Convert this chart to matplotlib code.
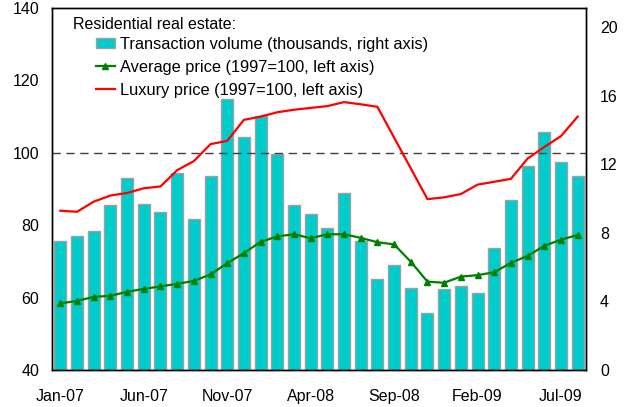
import matplotlib
matplotlib.use("Agg")
import matplotlib.pyplot as plt
import numpy as np

plt.rcParams['font.family'] = ['Liberation Sans', 'DejaVu Sans']

months = ["Jan-07", "Feb-07", "Mar-07", "Apr-07", "May-07", "Jun-07", "Jul-07", "Aug-07",
          "Sep-07", "Oct-07", "Nov-07", "Dec-07", "Jan-08", "Feb-08", "Mar-08", "Apr-08",
          "May-08", "Jun-08", "Jul-08", "Aug-08", "Sep-08", "Oct-08", "Nov-08", "Dec-08",
          "Jan-09", "Feb-09", "Mar-09", "Apr-09", "May-09", "Jun-09", "Jul-09", "Aug-09"]

volume = [7.5, 7.8, 8.1, 9.6, 11.2, 9.7, 9.2, 11.5, 8.8, 11.3, 15.8, 13.6, 14.8, 12.6, 9.6, 9.1,
          8.3, 10.3, 7.5, 5.3, 6.1, 4.8, 3.3, 4.7, 4.9, 4.5, 7.1, 9.9, 11.9, 13.9, 12.1, 11.3]

avg_price = [58.4, 59.1, 60.2, 60.5, 61.6, 62.4, 63.1, 63.8, 64.6, 66.4, 69.5, 72.3, 75.4, 76.9,
             77.5, 76.4, 77.5, 77.5, 76.5, 75.3, 74.7, 69.9, 64.4, 64.1, 65.8, 66.2, 67.0, 69.6,
             71.5, 74.3, 76.0, 77.3]

lux_price = [84.0, 83.7, 86.5, 88.2, 88.9, 90.2, 90.7, 95.2, 97.7, 102.4, 103.3, 109.1, 110.0,
             111.2, 111.9, 112.4, 112.9, 114.0, 113.4, 112.7, None, None, 87.2, 87.7, 88.6,
             91.2, 92.0, 92.8, 98.4, 101.6, 104.6, 110.0]

tick_labels = ["Jan-07", "Jun-07", "Nov-07", "Apr-08", "Sep-08", "Feb-09", "Jul-09"]

x = np.arange(len(months))

fig = plt.figure(figsize=(6.24, 4.07), dpi=100)
ax = fig.add_axes([52/624, 37/407, 534/624, 362/407])
ax2 = ax.twinx()
ax.set_zorder(2)
ax.patch.set_visible(False)

bar_color = "#00CCCC"
bars = ax2.bar(x, volume, width=0.72, color=bar_color, edgecolor="#A0A0A0", linewidth=1.0)
ax2.set_ylim(0, 20 * 362 / 343)
ax2.set_yticks(range(0, 21, 4))

ax.axhline(100, color="#404040", linestyle=(0, (6, 4)), linewidth=1.0, zorder=1)
l_avg, = ax.plot(x, avg_price, color="#008000", linewidth=1.6, marker="^", markersize=4)
lx = [xi for xi, v in zip(x, lux_price) if v is not None]
ly = [v for v in lux_price if v is not None]
l_lux, = ax.plot(lx, ly, color="#FF0000", linewidth=1.6)

ax.set_ylim(40, 140)
ax.set_yticks(range(40, 141, 20))
ax.set_xlim(-0.5, len(months) - 0.5)
tick_pos = [months.index(t) for t in tick_labels]
ax.set_xticks(tick_pos)
ax.set_xticklabels(tick_labels)

for a in (ax, ax2):
    a.tick_params(axis="both", length=0, labelsize=11.5, colors="black")
    for s in a.spines.values():
        s.set_linewidth(1.0)
ax.tick_params(axis="x", pad=14)
ax.tick_params(axis="y", pad=9)
ax2.tick_params(axis="y", pad=10)

ax.text(0.039, 0.955, "Residential real estate:", transform=ax.transAxes, fontsize=11.5,
        ha="left", va="center")
ax.legend([bars, l_avg, l_lux],
          ["Transaction volume (thousands, right axis)",
           "Average price (1997=100, left axis)",
           "Luxury price (1997=100, left axis)"],
          loc="upper left", bbox_to_anchor=(0.082, 0.921), frameon=False, fontsize=11.8,
          handlelength=1.15, handletextpad=0.35, labelspacing=0.5, borderpad=0.0,
          borderaxespad=0.0, handleheight=0.6)

fig.savefig("out.png", dpi=100)
